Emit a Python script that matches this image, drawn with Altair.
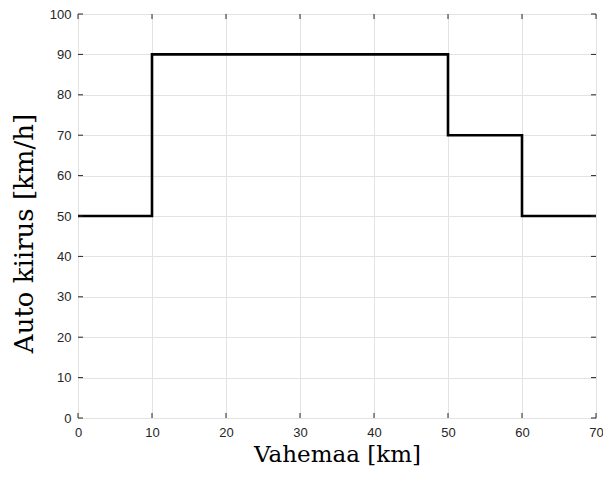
import altair as alt
import pandas as pd

distance = [0, 10, 50, 60, 70]
speed = [50, 90, 70, 50, 50]
x_ticks = [0, 10, 20, 30, 40, 50, 60, 70]
y_ticks = [0, 10, 20, 30, 40, 50, 60, 70, 80, 90, 100]

W, H = 518, 404
df = pd.DataFrame({"d": distance, "v": speed})
xt = pd.DataFrame({"t": x_ticks})
yt = pd.DataFrame({"t": y_ticks})

xs = alt.Scale(domain=[0, 70], nice=False)
ys = alt.Scale(domain=[0, 100], nice=False)
AX = "#262626"
axis_common = dict(tickSize=0, domain=False, grid=True, gridColor="#e3e3e3",
                   labelFont="Liberation Sans", labelFontSize=13, labelColor=AX,
                   labelFlush=False, labelOverlap=False, labelBound=False,
                   titleFont="DejaVu Serif", titleFontWeight="normal",
                   titleColor="#000000")

line = alt.Chart(df).mark_line(interpolate="step-after", color="black", strokeWidth=2.6, clip=True).encode(
    x=alt.X("d:Q", scale=xs, title="Vahemaa [km]",
            axis=alt.Axis(values=x_ticks, labelPadding=8, titlePadding=4, titleFontSize=23, **axis_common)),
    y=alt.Y("v:Q", scale=ys, title="Auto kiirus [km/h]",
            axis=alt.Axis(values=y_ticks, labelPadding=7, titlePadding=12, titleFontSize=26, titleY=219, **axis_common)),
)

tick_style = dict(color=AX, strokeWidth=1)
bt = alt.Chart(xt).mark_rule(**tick_style).encode(x=alt.X("t:Q", scale=xs), y=alt.value(H), y2=alt.value(H - 5))
tt = alt.Chart(xt).mark_rule(**tick_style).encode(x=alt.X("t:Q", scale=xs), y=alt.value(0), y2=alt.value(5))
lt = alt.Chart(yt).mark_rule(**tick_style).encode(y=alt.Y("t:Q", scale=ys), x=alt.value(0), x2=alt.value(5))
rt = alt.Chart(yt).mark_rule(**tick_style).encode(y=alt.Y("t:Q", scale=ys), x=alt.value(W - 5), x2=alt.value(W))

chart = alt.layer(line, bt, tt, lt, rt).properties(
    width=W, height=H,
    autosize=alt.AutoSizeParams(type="none"),
    padding={"left": 70, "top": 6, "right": 7, "bottom": 51},
).configure_view(stroke=AX, strokeWidth=1).configure(background="white")

chart.save("out.html", embed_options={"renderer": "svg", "actions": False})
